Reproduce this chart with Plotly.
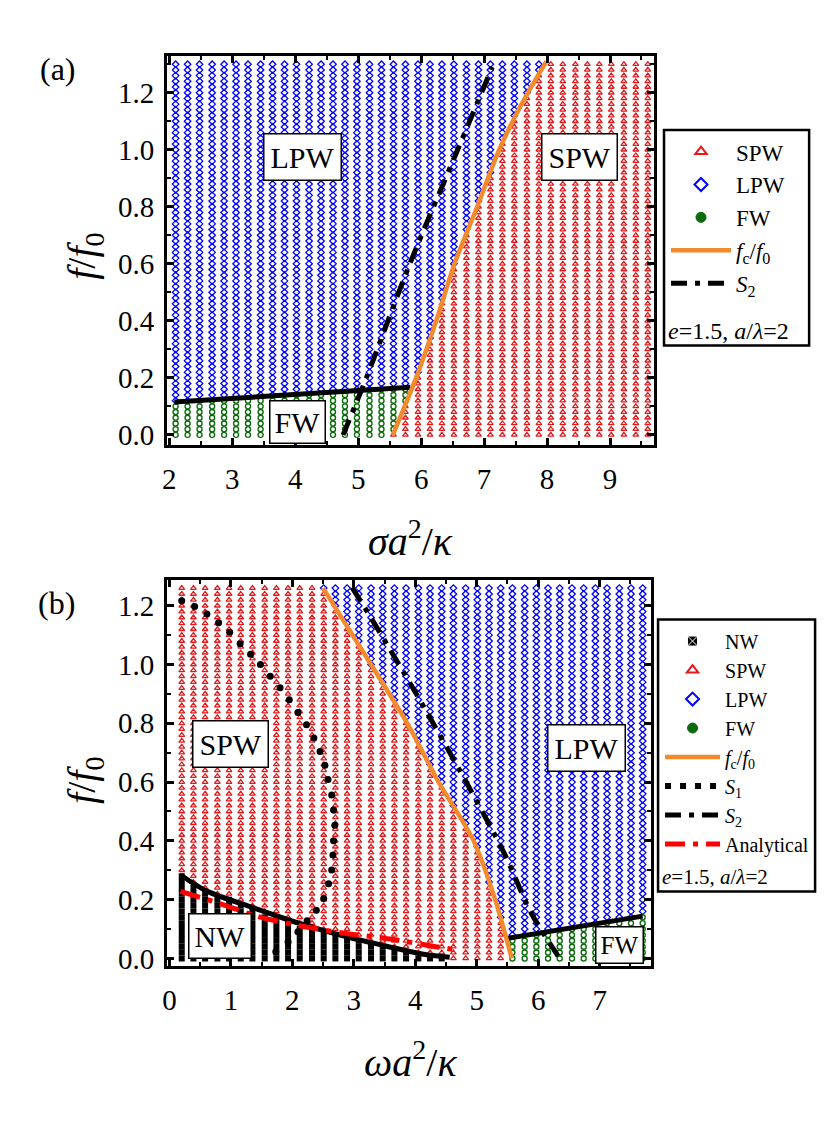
import numpy as np
import plotly.graph_objects as go

# page is drawn with an 8 px body margin; figure size chosen to fit window
OFF = 8
W, H = 822, 1115
FONT = "Liberation Serif, Times New Roman, serif"

# ---------------- panel (a) data ----------------
sigma_cols = [2.10, 2.29, 2.48, 2.68, 2.87, 3.06, 3.25, 3.45, 3.64, 3.83,
              4.02, 4.22, 4.41, 4.60, 4.79, 4.98, 5.18, 5.37, 5.56, 5.75,
              5.95, 6.14, 6.33, 6.52, 6.72, 6.91, 7.10, 7.29, 7.48, 7.68,
              7.87, 8.06, 8.25, 8.45, 8.64, 8.83, 9.02, 9.22, 9.41, 9.60]
f_rows_a = [0.00, 0.02, 0.04, 0.06, 0.08, 0.10, 0.12, 0.14, 0.16, 0.18,
            0.20, 0.22, 0.24, 0.26, 0.28, 0.30, 0.32, 0.34, 0.36, 0.38,
            0.40, 0.42, 0.44, 0.46, 0.48, 0.50, 0.52, 0.54, 0.56, 0.58,
            0.60, 0.62, 0.64, 0.66, 0.68, 0.70, 0.72, 0.74, 0.76, 0.78,
            0.80, 0.82, 0.84, 0.86, 0.88, 0.90, 0.92, 0.94, 0.96, 0.98,
            1.00, 1.02, 1.04, 1.06, 1.08, 1.10, 1.12, 1.14, 1.16, 1.18,
            1.20, 1.22, 1.24, 1.26, 1.28, 1.30]
fc_sigma = [5.55, 5.92, 6.24, 6.53, 6.89, 7.24, 7.62, 7.99]
fc_f_a = [0.00, 0.20, 0.40, 0.60, 0.80, 1.00, 1.17, 1.31]
s2_sigma = [4.76, 5.13, 5.82, 6.58, 7.13]
s2_f_a = [0.00, 0.20, 0.60, 1.00, 1.29]
fw_sigma = [2.08, 3.50, 5.00, 5.83]
fw_f_a = [0.115, 0.135, 0.152, 0.167]

# ---------------- panel (b) data ----------------
omega_cols = [0.20, 0.39, 0.58, 0.78, 0.97, 1.16, 1.35, 1.55, 1.74, 1.93,
              2.12, 2.32, 2.51, 2.70, 2.89, 3.08, 3.28, 3.47, 3.66, 3.85,
              4.05, 4.24, 4.43, 4.62, 4.82, 5.01, 5.20, 5.39, 5.58, 5.78,
              5.97, 6.16, 6.35, 6.55, 6.74, 6.93, 7.12, 7.32, 7.51, 7.70]
f_rows_b = [0.00, 0.02, 0.04, 0.06, 0.08, 0.10, 0.12, 0.14, 0.16, 0.18,
            0.20, 0.22, 0.24, 0.26, 0.28, 0.30, 0.32, 0.34, 0.36, 0.38,
            0.40, 0.42, 0.44, 0.46, 0.48, 0.50, 0.52, 0.54, 0.56, 0.58,
            0.60, 0.62, 0.64, 0.66, 0.68, 0.70, 0.72, 0.74, 0.76, 0.78,
            0.80, 0.82, 0.84, 0.86, 0.88, 0.90, 0.92, 0.94, 0.96, 0.98,
            1.00, 1.02, 1.04, 1.06, 1.08, 1.10, 1.12, 1.14, 1.16, 1.18,
            1.20, 1.22, 1.24, 1.26]
fc_omega = [2.50, 3.28, 3.87, 4.38, 4.95, 5.30, 5.57]
fc_f_b = [1.26, 1.00, 0.80, 0.60, 0.40, 0.20, 0.00]
s1_omega = [0.20, 0.41, 0.61, 0.80, 0.98, 1.15, 1.32, 1.48, 1.64, 1.80,
            1.95, 2.09, 2.23, 2.35, 2.45, 2.53, 2.58, 2.64, 2.67, 2.69,
            2.67, 2.66, 2.64, 2.59, 2.51, 2.39, 2.24, 2.09, 1.93, 1.73]
s1_f = [1.217, 1.197, 1.172, 1.142, 1.110, 1.071, 1.035, 1.000, 0.960, 0.921,
        0.880, 0.837, 0.795, 0.750, 0.704, 0.657, 0.609, 0.556, 0.505, 0.453,
        0.400, 0.352, 0.301, 0.254, 0.204, 0.164, 0.128, 0.091, 0.056, 0.023]
s2_omega = [2.97, 3.25, 4.01, 4.73, 5.44, 5.89, 6.35]
s2_f_b = [1.262, 1.169, 0.902, 0.637, 0.361, 0.153, 0.000]
nw_omega = [0.18, 0.61, 1.36, 2.12, 2.87, 3.63, 4.11, 4.56]
nw_f = [0.284, 0.229, 0.173, 0.119, 0.074, 0.037, 0.015, 0.004]
an_omega = [0.18, 0.83, 1.42, 2.12, 2.87, 3.63, 4.33, 4.60]
an_f = [0.228, 0.186, 0.144, 0.111, 0.085, 0.065, 0.040, 0.031]
fwb_omega = [5.49, 7.70]
fwb_f = [0.068, 0.144]


def classify_a():
    out = {"SPW": ([], []), "LPW": ([], []), "FW": ([], [])}
    for x in sigma_cols:
        for y in f_rows_a:
            if x > np.interp(y, fc_f_a, fc_sigma):
                k = "SPW"
            elif y <= np.interp(x, fw_sigma, fw_f_a):
                k = "FW"
            else:
                k = "LPW"
            out[k][0].append(x)
            out[k][1].append(y)
    return out


def classify_b():
    out = {"NW": ([], []), "SPW": ([], []), "LPW": ([], []), "FW": ([], [])}
    fy = fc_f_b[::-1]
    fx = fc_omega[::-1]
    for x in omega_cols:
        for y in f_rows_b:
            if x < np.interp(y, fy, fx):
                if x <= nw_omega[-1] and y <= np.interp(x, nw_omega, nw_f):
                    k = "NW"
                else:
                    k = "SPW"
            else:
                if y <= np.interp(x, fwb_omega, fwb_f):
                    k = "FW"
                else:
                    k = "LPW"
            out[k][0].append(x)
            out[k][1].append(y)
    return out


RED = "#E3191C"
BLUE = "#0000FF"
GREEN = "#0A6B0A"
ORANGE = "#F28A2E"

styles = {
    "NW": dict(symbol="square", size=6, color="black",
               line=dict(color="black", width=0)),
    "SPW": dict(symbol="triangle-up-open", size=5, color=RED,
                line=dict(color=RED, width=1.3)),
    "LPW": dict(symbol="diamond-open", size=5, color=BLUE,
                line=dict(color=BLUE, width=1.3)),
    "FW": dict(symbol="circle-open", size=5, color=GREEN,
               line=dict(color=GREEN, width=1.4)),
}
legend_styles = {
    "NW": dict(symbol="square-x", size=10, color="black",
               line=dict(color="white", width=1)),
    "SPW": dict(symbol="triangle-up-open", size=10, color=RED,
                line=dict(color=RED, width=2)),
    "LPW": dict(symbol="diamond-open", size=10, color=BLUE,
                line=dict(color=BLUE, width=2)),
    "FW": dict(symbol="circle", size=10, color=GREEN,
               line=dict(color=GREEN, width=1)),
}

fig = go.Figure()

ga = classify_a()
for k in ["SPW", "LPW", "FW"]:
    fig.add_trace(go.Scatter(x=ga[k][0], y=ga[k][1], mode="markers",
                             showlegend=False, marker=styles[k],
                             xaxis="x", yaxis="y"))
for k in ["SPW", "LPW", "FW"]:
    fig.add_trace(go.Scatter(x=[None], y=[None], mode="markers", name=k,
                             marker=legend_styles[k], xaxis="x", yaxis="y",
                             legend="legend"))

fig.add_trace(go.Scatter(x=fw_sigma, y=fw_f_a, mode="lines", showlegend=False,
                         line=dict(color="black", width=5), xaxis="x", yaxis="y"))
fig.add_trace(go.Scatter(x=fc_sigma, y=fc_f_a, mode="lines",
                         name="<i>f</i><sub>c</sub>/<i>f</i><sub>0</sub>",
                         line=dict(color=ORANGE, width=4.5, shape="spline",
                                   smoothing=0.8),
                         xaxis="x", yaxis="y", legend="legend"))
fig.add_trace(go.Scatter(x=s2_sigma, y=s2_f_a, mode="lines",
                         name="<i>S</i><sub>2</sub>",
                         line=dict(color="black", width=5, dash="16px,8px,5px,8px",
                                   shape="spline", smoothing=0.8),
                         xaxis="x", yaxis="y", legend="legend"))

gb = classify_b()
for k in ["NW", "SPW", "LPW", "FW"]:
    fig.add_trace(go.Scatter(x=gb[k][0], y=gb[k][1], mode="markers",
                             showlegend=False, marker=styles[k],
                             xaxis="x2", yaxis="y2"))
for k in ["NW", "SPW", "LPW", "FW"]:
    fig.add_trace(go.Scatter(x=[None], y=[None], mode="markers", name=k,
                             marker=legend_styles[k], xaxis="x2", yaxis="y2",
                             legend="legend2"))

fig.add_trace(go.Scatter(x=nw_omega, y=nw_f, mode="lines", showlegend=False,
                         line=dict(color="black", width=5, shape="spline",
                                   smoothing=0.8),
                         xaxis="x2", yaxis="y2"))
fig.add_trace(go.Scatter(x=fwb_omega, y=fwb_f, mode="lines", showlegend=False,
                         line=dict(color="black", width=5), xaxis="x2", yaxis="y2"))
fig.add_trace(go.Scatter(x=fc_omega, y=fc_f_b, mode="lines",
                         name="<i>f</i><sub>c</sub>/<i>f</i><sub>0</sub>",
                         line=dict(color=ORANGE, width=4.5, shape="spline",
                                   smoothing=0.8),
                         xaxis="x2", yaxis="y2", legend="legend2"))
fig.add_trace(go.Scatter(x=s1_omega, y=s1_f, mode="markers", showlegend=False,
                         marker=dict(color="black", size=7), xaxis="x2", yaxis="y2"))
fig.add_trace(go.Scatter(x=[None], y=[None], mode="lines",
                         name="<i>S</i><sub>1</sub>",
                         line=dict(color="black", width=6, dash="6px,9px"),
                         xaxis="x2", yaxis="y2", legend="legend2"))
fig.add_trace(go.Scatter(x=s2_omega, y=s2_f_b, mode="lines",
                         name="<i>S</i><sub>2</sub>",
                         line=dict(color="black", width=5, dash="16px,8px,5px,8px",
                                   shape="spline", smoothing=0.8),
                         xaxis="x2", yaxis="y2", legend="legend2"))
fig.add_trace(go.Scatter(x=an_omega, y=an_f, mode="lines", name="Analytical",
                         line=dict(color="#FF0000", width=5, dash="20px,8px,5px,8px",
                                   shape="spline", smoothing=0.8),
                         xaxis="x2", yaxis="y2", legend="legend2"))


def px_x(p):
    return (p - OFF) / W


def px_y(p):
    return 1 - (p - OFF) / H


TICKFONT = dict(family=FONT, size=29, color="black")
axis_common = dict(showline=True, linewidth=3, linecolor="black", mirror="ticks",
                   ticks="inside", ticklen=7, tickwidth=2.5, tickcolor="black",
                   showgrid=False, zeroline=False, tickfont=TICKFONT)

fig.update_layout(
    width=W, height=H, autosize=False,
    margin=dict(l=0, r=0, t=0, b=0),
    paper_bgcolor="white", plot_bgcolor="white",
    font=dict(family=FONT, color="black", size=20),
    xaxis=dict(axis_common, domain=[px_x(163), px_x(653)], range=[1.964, 9.70],
               tick0=2, dtick=1, anchor="y", ticklabelstandoff=6,
               minor=dict(ticks="inside", ticklen=4, tickwidth=2, dtick=0.5,
                          tickcolor="black")),
    yaxis=dict(axis_common, domain=[px_y(448), px_y(56)], range=[-0.035, 1.33],
               tick0=0, dtick=0.2, tickformat=".1f", anchor="x", ticklabelstandoff=4,
               minor=dict(ticks="inside", ticklen=4, tickwidth=2, dtick=0.1,
                          tickcolor="black")),
    xaxis2=dict(axis_common, domain=[px_x(163), px_x(650)], range=[-0.039, 7.837],
                tick0=0, dtick=1, anchor="y2", ticklabelstandoff=6,
                minor=dict(ticks="inside", ticklen=4, tickwidth=2, dtick=0.5,
                           tickcolor="black")),
    yaxis2=dict(axis_common, domain=[px_y(973), px_y(584)], range=[-0.026, 1.288],
                tick0=0, dtick=0.2, tickformat=".1f", anchor="x2", ticklabelstandoff=4,
                minor=dict(ticks="inside", ticklen=4, tickwidth=2, dtick=0.1,
                           tickcolor="black")),
    legend=dict(x=px_x(665), y=px_y(131), xanchor="left", yanchor="top",
                bgcolor="rgba(0,0,0,0)", borderwidth=0, itemwidth=60,
                tracegroupgap=0,
                font=dict(family=FONT, size=23, color="black")),
    legend2=dict(x=px_x(659), y=px_y(626), xanchor="left", yanchor="top",
                 bgcolor="rgba(0,0,0,0)", borderwidth=0, itemwidth=55,
                 tracegroupgap=0,
                 font=dict(family=FONT, size=20, color="black")),
    showlegend=True,
)

fig.add_shape(type="rect", xref="paper", yref="paper",
              x0=px_x(663), x1=px_x(809), y0=px_y(348), y1=px_y(131),
              line=dict(color="black", width=2.5), fillcolor="white", layer="above")
fig.add_shape(type="rect", xref="paper", yref="paper",
              x0=px_x(657), x1=px_x(815), y0=px_y(898), y1=px_y(624),
              line=dict(color="black", width=2.5), fillcolor="white", layer="above")


def paper_text(xp, yp, text, size, angle=0, xanchor="center"):
    return dict(x=px_x(xp), y=px_y(yp), xref="paper", yref="paper",
                xanchor=xanchor, yanchor="middle", showarrow=False,
                textangle=angle, text=text,
                font=dict(family=FONT, size=size, color="black"))


ann = []
ann.append(paper_text(665, 333, "<i>e</i>=1.5, <i>a</i>/<i>λ</i>=2", 24,
                      xanchor="left"))
ann.append(paper_text(659, 883, "<i>e</i>=1.5, <i>a</i>/<i>λ</i>=2", 21,
                      xanchor="left"))
ann.append(paper_text(408, 542, "<i>σa</i><sup>2</sup>/<i>κ</i>", 40))
ann.append(paper_text(408, 1067, "<i>ωa</i><sup>2</sup>/<i>κ</i>", 40))
ann.append(paper_text(80, 258, "<i>f</i>/<i>f</i><sub>0</sub>", 40, angle=-90))
ann.append(paper_text(80, 786, "<i>f</i>/<i>f</i><sub>0</sub>", 40, angle=-90))
ann.append(paper_text(53, 69, "(a)", 32))
ann.append(paper_text(52, 607, "(b)", 32))


def region(x, y, text, xr, yr, size, pad=6):
    return dict(x=x, y=y, xref=xr, yref=yr, text=text, showarrow=False,
                xanchor="center", yanchor="middle",
                bgcolor="white", bordercolor="black", borderwidth=1.5,
                borderpad=pad, font=dict(family=FONT, size=size, color="black"))


ann.append(region(4.12, 0.974, "LPW", "x", "y", 30))
ann.append(region(8.52, 0.974, "SPW", "x", "y", 30))
ann.append(region(4.04, 0.045, "FW", "x", "y", 30, pad=4))
ann.append(region(1.00, 0.731, "SPW", "x2", "y2", 30))
ann.append(region(6.78, 0.715, "LPW", "x2", "y2", 30))
ann.append(region(0.83, 0.076, "NW", "x2", "y2", 30, pad=5))
ann.append(region(7.32, 0.045, "FW", "x2", "y2", 25, pad=4))

fig.update_layout(annotations=ann)

fig.write_html("out.html")
